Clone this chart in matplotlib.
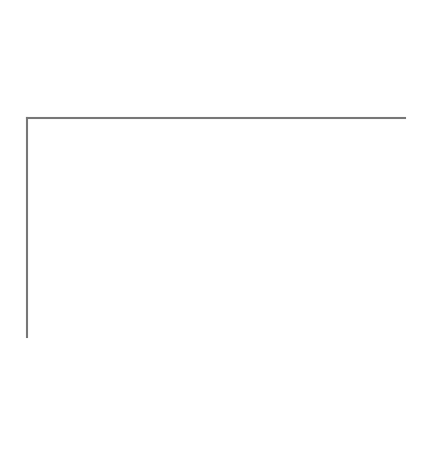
import matplotlib
matplotlib.use("Agg")
import matplotlib.pyplot as plt

# the reference chart shows no data, only the frame
categories = []
values = []

fig = plt.figure(figsize=(4.32, 4.57), dpi=100)
ax = fig.add_axes([27 / 432, 1 - 337 / 457, 378 / 432, 219 / 457])
ax.plot(categories, values)

for side in ["right", "bottom"]:
    ax.spines[side].set_visible(False)
for side in ["top", "left"]:
    ax.spines[side].set_color("#777777")
    ax.spines[side].set_linewidth(1.5)

ax.set_xticks([])
ax.set_yticks([])

fig.savefig("out.png", dpi=100)
